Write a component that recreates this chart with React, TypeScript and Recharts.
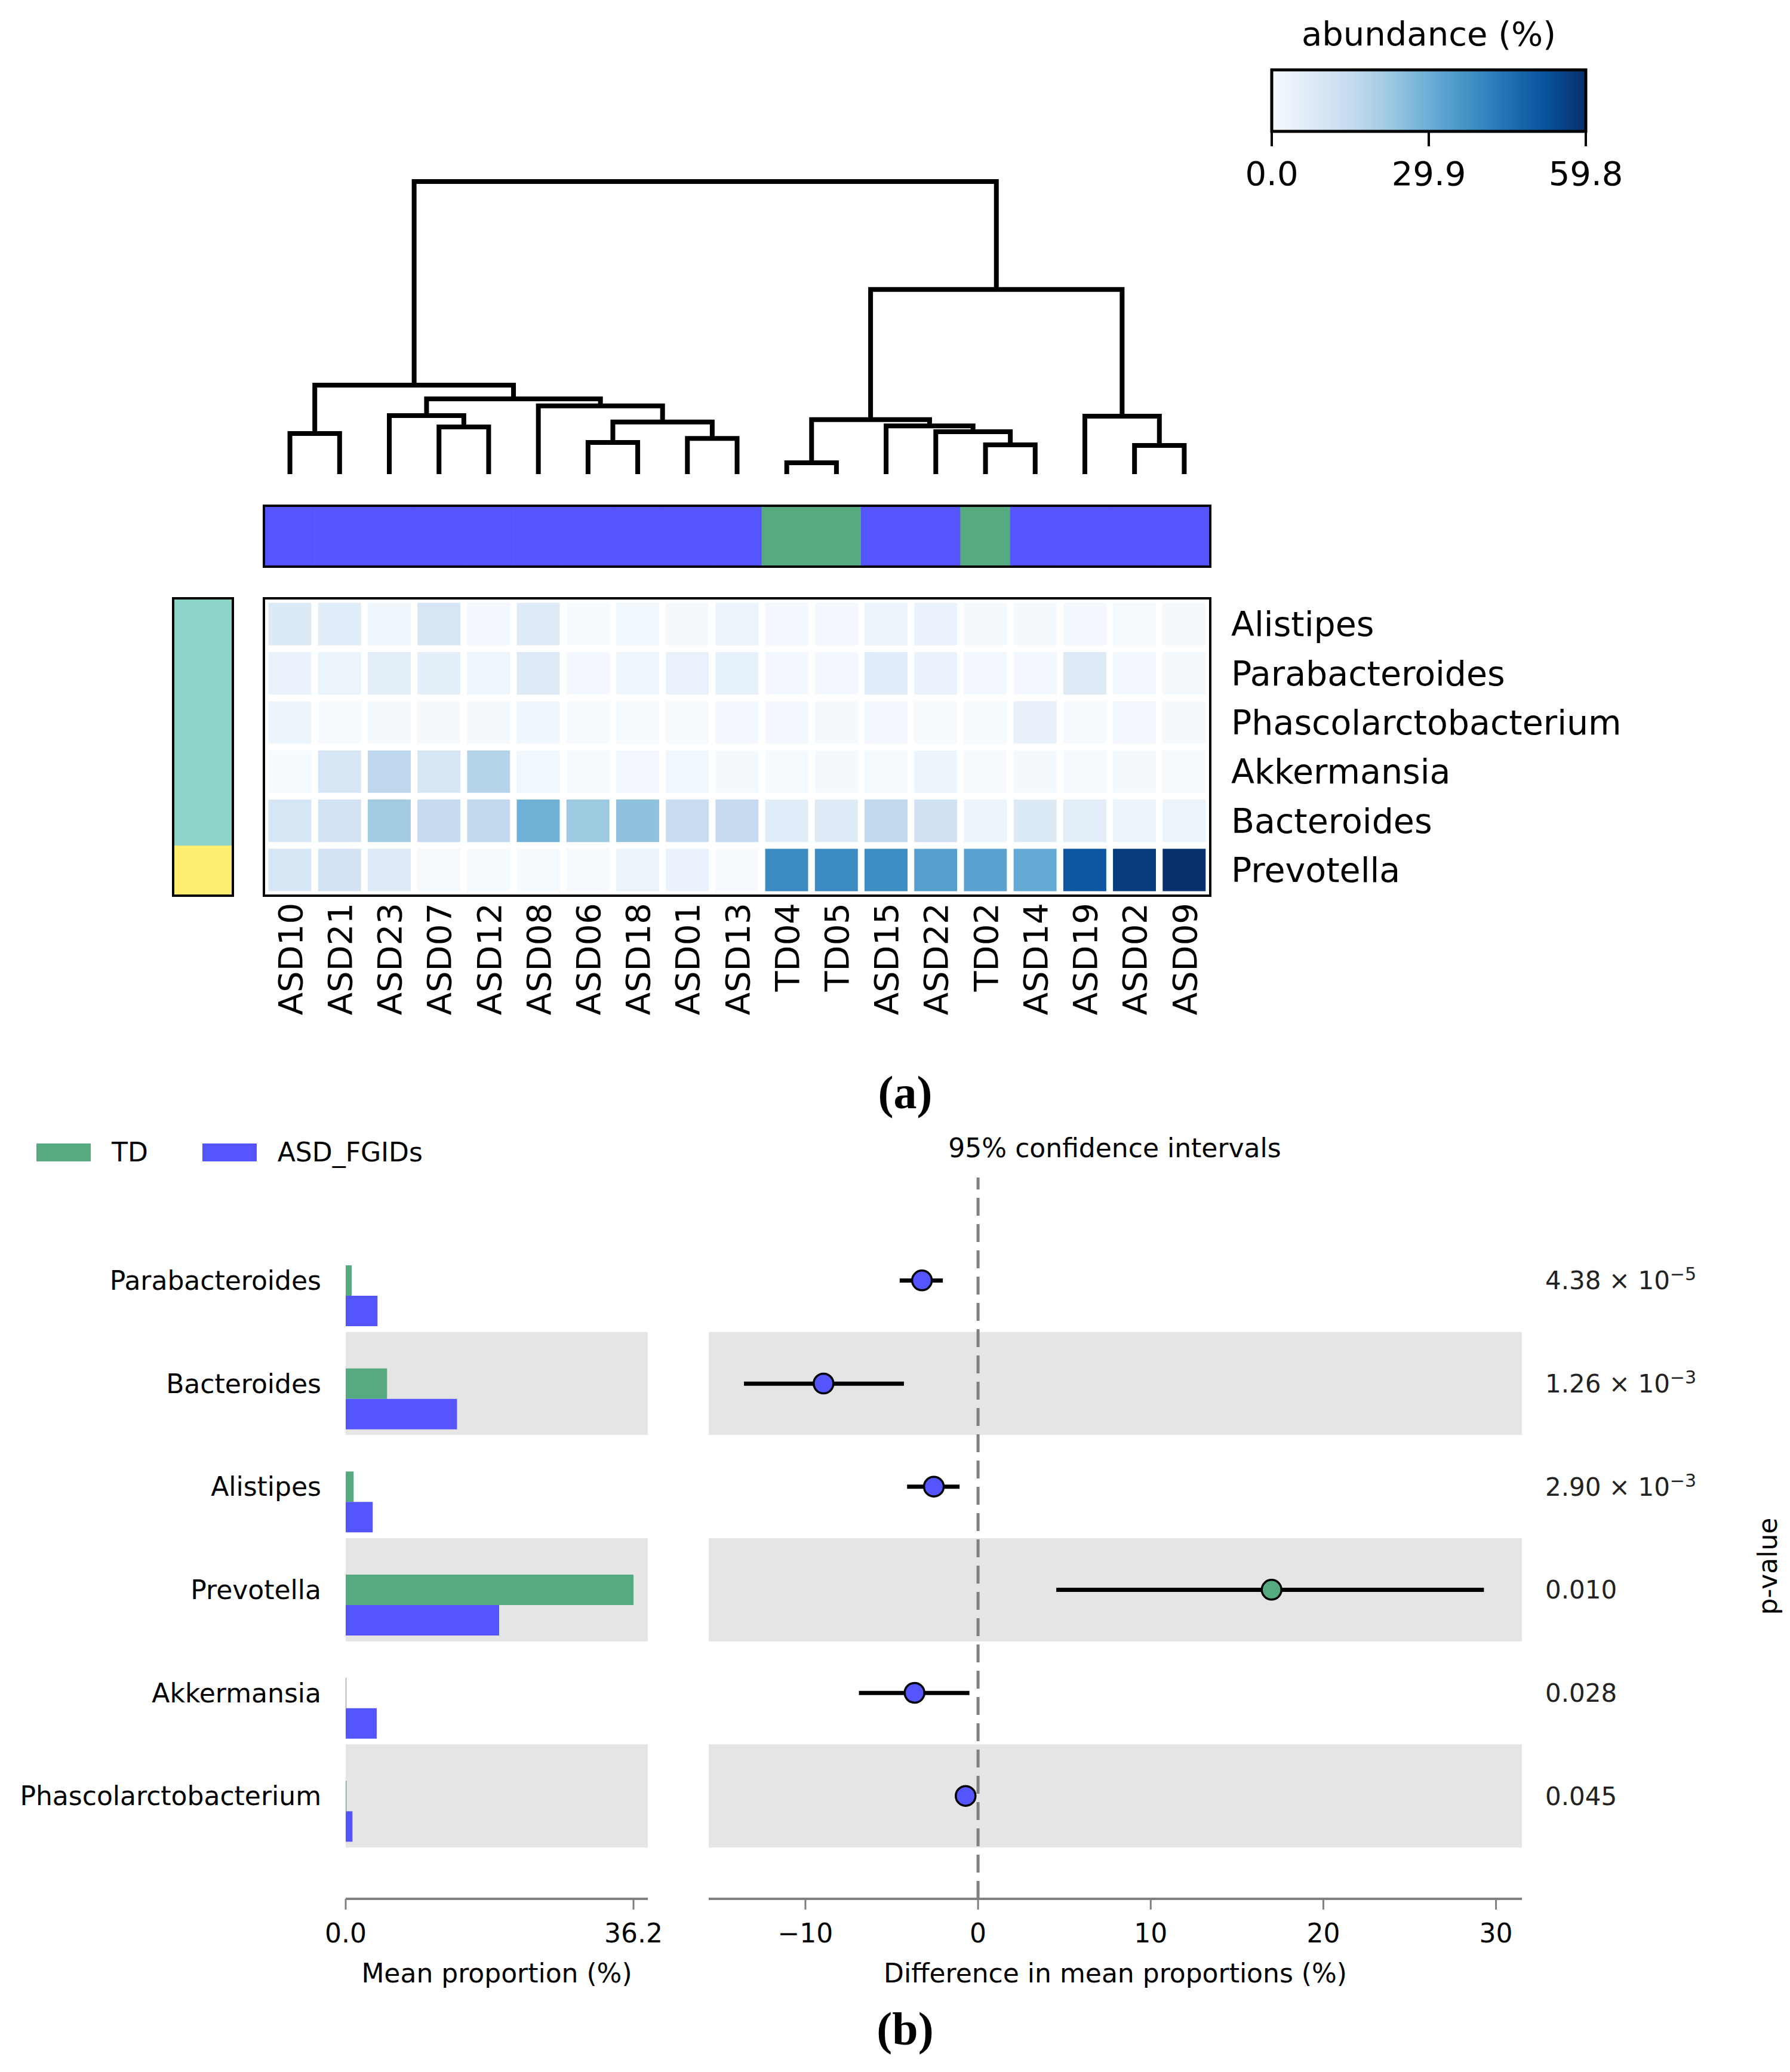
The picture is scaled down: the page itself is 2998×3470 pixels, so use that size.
import React from "react";
import {
  BarChart, Bar, Cell, XAxis, YAxis, ScatterChart, Scatter,
  ComposedChart, ReferenceArea, ReferenceLine, Legend, Label,
} from "recharts";

const FONT = "'DejaVu Sans', sans-serif";
const TD_COLOR = "#55AA7F";
const ASD_COLOR = "#5555FF";
const BAND_GRAY = "#E5E5E5";
const AXIS_GRAY = "#808080";

// ---------- (a) heatmap + dendrogram ----------
const SAMPLES = [
  "ASD10", "ASD21", "ASD23", "ASD07", "ASD12", "ASD08", "ASD06", "ASD18", "ASD01", "ASD13",
  "TD04", "TD05", "ASD15", "ASD22", "TD02", "ASD14", "ASD19", "ASD02", "ASD09",
];
// rows, top to bottom
const GENERA = ["Alistipes", "Parabacteroides", "Phascolarctobacterium", "Akkermansia", "Bacteroides", "Prevotella"];

const ALISTIPES       = [8.0, 6.5, 2.5, 10.0, 1.5, 7.5, 0.3, 2.0, 1.0, 3.5, 1.4, 1.2, 3.5, 4.0, 0.9, 1.0, 1.2, 0.7, 1.0];
const PARABACTEROIDES = [3.8, 3.5, 6.0, 5.5, 2.8, 7.5, 1.5, 2.5, 4.2, 5.0, 1.2, 1.3, 6.5, 3.8, 1.2, 1.4, 7.5, 1.4, 0.8];
const PHASCOLARCTO    = [3.0, 0.3, 0.8, 1.0, 0.8, 2.2, 0.4, 0.6, 0.6, 1.2, 1.5, 1.0, 1.5, 0.6, 0.5, 4.5, 0.4, 1.8, 0.8];
const AKKERMANSIA     = [0.2, 10.0, 16.5, 10.0, 18.0, 2.0, 0.5, 1.2, 2.0, 1.0, 0.7, 1.0, 0.5, 3.0, 0.4, 0.8, 0.6, 0.8, 0.5];
const BACTEROIDES     = [10.0, 11.0, 22.0, 15.0, 15.5, 29.0, 22.5, 24.5, 14.0, 15.0, 6.5, 7.5, 16.0, 12.0, 3.0, 8.0, 6.0, 3.2, 3.5];
const PREVOTELLA      = [9.5, 11.0, 7.5, 0.5, 0.5, 0.5, 0.3, 3.5, 4.0, 0.3, 39.0, 39.0, 38.5, 34.0, 33.0, 31.0, 51.0, 57.0, 59.8];

const ABUNDANCE: Record<string, number[]> = {
  Alistipes: ALISTIPES,
  Parabacteroides: PARABACTEROIDES,
  Phascolarctobacterium: PHASCOLARCTO,
  Akkermansia: AKKERMANSIA,
  Bacteroides: BACTEROIDES,
  Prevotella: PREVOTELLA,
};
const GENUS_CLUSTER = [0, 0, 0, 0, 0, 1];
const CLUSTER_COLORS = ["#8DD3C7", "#FFED6F"];
const ABUNDANCE_MAX = 59.8;
const COLORBAR_TICKS = [0, 29.9, 59.8];

// column linkage: [id, left, right, height]
const LINKAGE: [string, string, string, number][] = [
  ["c0", "ASD10", "ASD21", 0.139],
  ["c1", "ASD07", "ASD12", 0.161],
  ["c2", "ASD23", "c1", 0.2],
  ["c3", "ASD06", "ASD18", 0.108],
  ["c4", "ASD01", "ASD13", 0.122],
  ["c5", "c3", "c4", 0.178],
  ["c6", "ASD08", "c5", 0.233],
  ["c7", "c2", "c6", 0.257],
  ["c8", "c0", "c7", 0.304],
  ["c9", "TD04", "TD05", 0.039],
  ["c10", "TD02", "ASD14", 0.1],
  ["c11", "ASD22", "c10", 0.145],
  ["c12", "ASD15", "c11", 0.165],
  ["c13", "c9", "c12", 0.186],
  ["c14", "ASD02", "ASD09", 0.098],
  ["c15", "ASD19", "c14", 0.198],
  ["c16", "c13", "c15", 0.631],
  ["c17", "c8", "c16", 1.0],
];

// ---------- (b) extended error bar ----------
const GENERA_B = ["Parabacteroides", "Bacteroides", "Alistipes", "Prevotella", "Akkermansia", "Phascolarctobacterium"];
const TD_MEAN  = [0.75, 5.2, 1.0, 36.2, 0.08, 0.1];
const ASD_MEAN = [4.0, 14.0, 3.4, 19.3, 3.9, 0.85];
const DIFF     = [-3.25, -8.95, -2.56, 17.0, -3.68, -0.72];
const CI_LO    = [-4.54, -13.56, -4.11, 4.53, -6.9, -1.2];
const CI_HI    = [-2.04, -4.29, -1.07, 29.3, -0.5, -0.2];
const P_VALUES = [4.38e-5, 1.26e-3, 2.9e-3, 0.01, 0.028, 0.045];
const MEAN_TICKS = [0, 36.2];
const DIFF_TICKS = [-10, 0, 10, 20, 30];
const GROUP_LEGEND = [
  { name: "TD", color: TD_COLOR },
  { name: "ASD_FGIDs", color: ASD_COLOR },
];

// matplotlib "Blues"
const BLUES = ["#f7fbff", "#deebf7", "#c6dbef", "#9ecae1", "#6baed6", "#4292c6", "#2171b5", "#08519c", "#08306b"];

function hexToRgb(h: string) {
  const n = parseInt(h.slice(1), 16);
  return [(n >> 16) & 255, (n >> 8) & 255, n & 255];
}
function blues(v: number) {
  const t = Math.max(0, Math.min(1, v / ABUNDANCE_MAX)) * (BLUES.length - 1);
  const i = Math.min(Math.floor(t), BLUES.length - 2);
  const f = t - i;
  const a = hexToRgb(BLUES[i]);
  const b = hexToRgb(BLUES[i + 1]);
  const c = a.map((x, k) => Math.round(x + (b[k] - x) * f));
  return `rgb(${c[0]},${c[1]},${c[2]})`;
}

function buildDendrogram() {
  const pos: Record<string, { x: number; h: number }> = {};
  SAMPLES.forEach((s, i) => { pos[s] = { x: i + 0.5, h: 0 }; });
  return LINKAGE.map(([id, l, r, h]) => {
    const A = pos[l];
    const B = pos[r];
    pos[id] = { x: (A.x + B.x) / 2, h };
    return [
      { x: A.x, y: A.h }, { x: A.x, y: h },
      { x: B.x, y: h }, { x: B.x, y: B.h },
    ];
  });
}
const DENDRO_LINKS = buildDendrogram();
const ROOT_H = LINKAGE[LINKAGE.length - 1][3];

const STACK = [...GENERA].reverse(); // bottom row first
const unitRow = () => Object.fromEntries(GENERA.map((g) => [g, 1]));
const HEAT_TILES = SAMPLES.map((sample) => ({ sample, ...unitRow() }));
const GROUP_TILES = SAMPLES.map((sample) => ({ sample, tile: 1 }));
const SIDE_TILES = [{ strip: "genus", ...unitRow() }];
const COLORBAR_DATA = [{ name: "abundance", lo: 0, hi: ABUNDANCE_MAX }];

const B_DATA = GENERA_B.map((genus, i) => ({
  genus, td: TD_MEAN[i], asd: ASD_MEAN[i], diff: DIFF[i], lo: CI_LO[i], hi: CI_HI[i],
}));
const SHADED = GENERA_B.filter((_, i) => i % 2 === 1);

const NO_BAR = () => 0;
const RANGE = (d: any) => [d.lo, d.hi];

// geometry
const HM_LEFT = 444, HM_W = 1581;
const HM_TOP = 1004, HM_H = 494;

const Blank = () => <g />;

const SampleTick = ({ x, y, payload }: any) => (
  <text x={x} y={y} transform={`rotate(-90 ${x} ${y})`} textAnchor="end" dy="0.36em"
    fontSize={56} fontFamily={FONT} fill="#000">{payload.value}</text>
);

const PValueTick = ({ x, y, payload }: any) => {
  const p = P_VALUES[GENERA_B.indexOf(payload.value)];
  const style = { fontSize: 42, fontFamily: FONT, fill: "#222" };
  if (p < 0.01) {
    const e = Math.floor(Math.log10(p));
    const m = p / Math.pow(10, e);
    return (
      <text x={x} y={y} dy="0.36em" textAnchor="start" {...style}>
        {m.toFixed(2)} × 10<tspan dy={-15} fontSize={30}>{`\u2212${-e}`}</tspan>
      </text>
    );
  }
  return <text x={x} y={y} dy="0.36em" textAnchor="start" {...style}>{p.toFixed(3)}</text>;
};

const DiffDot = (props: any) => {
  const { cx, cy, payload } = props;
  if (cx == null || cy == null) return null;
  return <circle cx={cx} cy={cy} r={16.5} fill={payload.diff > 0 ? TD_COLOR : ASD_COLOR} stroke="#000" strokeWidth={3.5} />;
};

const GroupLegend = () => (
  <div style={{ display: "flex", alignItems: "center", fontFamily: FONT, fontSize: 44, color: "#000", whiteSpace: "nowrap", lineHeight: "52px" }}>
    {GROUP_LEGEND.map((g, i) => (
      <span key={g.name} style={{ display: "flex", alignItems: "center", marginLeft: i ? 91 : 0 }}>
        <span style={{ display: "inline-block", width: 91, height: 30, background: g.color, marginRight: 35 }} />
        {g.name}
      </span>
    ))}
  </div>
);

const boxed = (left: number, top: number, w: number, h: number) => ({
  position: "absolute" as const, left: left - 4, top: top - 4, width: w, height: h,
  border: "4px solid #000", pointerEvents: "none" as const,
});

const axisTick = { fontSize: 44, fill: "#000", fontFamily: FONT };
const diffFmt = (v: number) => (v < 0 ? `\u2212${Math.abs(v)}` : `${v}`);

export default function App() {
  return (
    <div style={{ position: "absolute", left: 0, top: 0, width: 2998, height: 3470, background: "#fff", fontFamily: FONT }}>
      {/* colour bar */}
      <div style={{ position: "absolute", left: 2000, top: 97 }}>
        <BarChart layout="vertical" width={800} height={270} data={COLORBAR_DATA}
          margin={{ top: 20, right: 144, bottom: 0, left: 130 }} barCategoryGap={0}>
          <defs>
            <linearGradient id="bluesBar" x1="0" y1="0" x2="1" y2="0">
              {BLUES.map((c, i) => <stop key={c} offset={i / (BLUES.length - 1)} stopColor={c} />)}
            </linearGradient>
          </defs>
          <XAxis type="number" domain={[0, ABUNDANCE_MAX]} ticks={COLORBAR_TICKS} interval={0}
            height={147} axisLine={false} tickSize={25} tickMargin={25}
            tickLine={{ stroke: "#000", strokeWidth: 4 }}
            tickFormatter={(v: number) => v.toFixed(1)}
            tick={{ fontSize: 56, fill: "#000", fontFamily: FONT }} />
          <YAxis type="category" dataKey="name" hide />
          <Bar dataKey={RANGE} fill="url(#bluesBar)" stroke="#000" strokeWidth={5} isAnimationActive={false} />
        </BarChart>
      </div>

      {/* dendrogram */}
      <div style={{ position: "absolute", left: HM_LEFT, top: 284 }}>
        <ScatterChart width={HM_W} height={530} margin={{ top: 20, right: 0, bottom: 20, left: 0 }}>
          <XAxis type="number" dataKey="x" domain={[0, SAMPLES.length]} hide />
          <YAxis type="number" dataKey="y" domain={[0, ROOT_H]} hide />
          {DENDRO_LINKS.map((pts, i) => (
            <Scatter key={i} data={pts} line={{ stroke: "#000", strokeWidth: 8 }} lineType="joint"
              shape={<Blank />} isAnimationActive={false} legendType="none" />
          ))}
        </ScatterChart>
      </div>

      {/* group strip */}
      <div style={{ position: "absolute", left: HM_LEFT, top: 849 }}>
        <BarChart width={HM_W} height={98} data={GROUP_TILES} margin={{ top: 0, right: 0, bottom: 0, left: 0 }} barCategoryGap={0}>
          <XAxis dataKey="sample" hide />
          <YAxis type="number" domain={[0, 1]} hide />
          <Bar dataKey="tile" isAnimationActive={false}>
            {SAMPLES.map((s) => {
              const c = s.startsWith("TD") ? TD_COLOR : ASD_COLOR;
              return <Cell key={s} fill={c} stroke={c} strokeWidth={1} />;
            })}
          </Bar>
        </BarChart>
      </div>
      <div style={boxed(HM_LEFT, 849, HM_W, 98)} />

      {/* heatmap */}
      <div style={{ position: "absolute", left: HM_LEFT, top: HM_TOP }}>
        <BarChart width={HM_W + 720} height={HM_H + 230} data={HEAT_TILES} margin={{ top: 0, right: 0, bottom: 0, left: 0 }} barCategoryGap={0}>
          <XAxis dataKey="sample" type="category" height={230} interval={0} axisLine={false} tickLine={false}
            tickSize={0} tickMargin={14} tick={<SampleTick />} />
          <YAxis orientation="right" type="number" domain={[0, GENERA.length]} width={720}
            ticks={STACK.map((_, i) => i + 0.5)} interval={0}
            tickFormatter={(v: number) => STACK[Math.floor(v)]}
            axisLine={false} tickLine={false} tickSize={0} tickMargin={37}
            tick={{ fontSize: 57, fill: "#000", fontFamily: FONT }} />
          {STACK.map((g) => (
            <Bar key={g} dataKey={g} stackId="cells" isAnimationActive={false}>
              {SAMPLES.map((s, i) => <Cell key={s} fill={blues(ABUNDANCE[g][i])} stroke="#fff" strokeWidth={11} />)}
            </Bar>
          ))}
        </BarChart>
      </div>
      <div style={boxed(HM_LEFT, HM_TOP, HM_W, HM_H)} />

      {/* row colour strip */}
      <div style={{ position: "absolute", left: 292, top: HM_TOP }}>
        <BarChart width={96} height={HM_H} data={SIDE_TILES} margin={{ top: 0, right: 0, bottom: 0, left: 0 }} barCategoryGap={0}>
          <XAxis dataKey="strip" hide />
          <YAxis type="number" domain={[0, GENERA.length]} hide />
          {STACK.map((g) => {
            const c = CLUSTER_COLORS[GENUS_CLUSTER[GENERA.indexOf(g)]];
            return <Bar key={g} dataKey={g} stackId="side" fill={c} stroke={c} strokeWidth={1} isAnimationActive={false} />;
          })}
        </BarChart>
      </div>
      <div style={boxed(292, HM_TOP, 96, HM_H)} />

      {/* (b) mean proportions */}
      <div style={{ position: "absolute", left: 0, top: 1890 }}>
        <BarChart layout="vertical" width={1140} height={1460} data={B_DATA}
          margin={{ top: 82, right: 55, bottom: 0, left: 0 }} barGap={0} barSize={51}>
          {SHADED.map((g) => (
            <ReferenceArea key={g} y1={g} y2={g} fill={BAND_GRAY} fillOpacity={1} stroke="none" />
          ))}
          <XAxis type="number" domain={[0, 38]} ticks={MEAN_TICKS} interval={0} height={170}
            axisLine={{ stroke: AXIS_GRAY, strokeWidth: 4 }} tickLine={{ stroke: AXIS_GRAY, strokeWidth: 3 }}
            tickSize={18} tickMargin={24} tick={axisTick} tickFormatter={(v: number) => v.toFixed(1)}>
            <Label value="Mean proportion (%)" position="insideTop" offset={109} style={axisTick} />
          </XAxis>
          <YAxis type="category" dataKey="genus" width={579} padding={{ top: 86, bottom: 86 }}
            axisLine={false} tickLine={false} tickSize={0} tickMargin={41} interval={0} tick={axisTick} />
          <Bar dataKey={NO_BAR} fill="none" isAnimationActive={false} legendType="none" />
          <Bar dataKey="td" name="TD" fill={TD_COLOR} isAnimationActive={false} />
          <Bar dataKey="asd" name="ASD_FGIDs" fill={ASD_COLOR} isAnimationActive={false} />
          <Legend content={<GroupLegend />} layout="vertical" align="center" verticalAlign="middle"
            wrapperStyle={{ top: 14, left: 61, width: "auto" }} />
        </BarChart>
      </div>

      {/* (b) difference with confidence intervals */}
      <div style={{ position: "absolute", left: 1150, top: 1890 }}>
        <ComposedChart layout="vertical" width={1840} height={1460} data={B_DATA}
          margin={{ top: 82, right: 0, bottom: 0, left: 37 }}>
          {SHADED.map((g) => (
            <ReferenceArea key={g} y1={g} y2={g} fill={BAND_GRAY} fillOpacity={1} stroke="none" />
          ))}
          <XAxis type="number" dataKey="diff" domain={[-15.6, 31.5]} ticks={DIFF_TICKS} interval={0} height={170}
            axisLine={{ stroke: AXIS_GRAY, strokeWidth: 4 }} tickLine={{ stroke: AXIS_GRAY, strokeWidth: 3 }}
            tickSize={18} tickMargin={24} tick={axisTick} tickFormatter={diffFmt}>
            <Label value="Difference in mean proportions (%)" position="insideTop" offset={109} style={axisTick} />
          </XAxis>
          <YAxis type="category" dataKey="genus" hide padding={{ top: 86, bottom: 86 }} />
          <YAxis yAxisId="p" orientation="right" type="category" dataKey="genus" width={441}
            padding={{ top: 86, bottom: 86 }} axisLine={false} tickLine={false} tickSize={0} tickMargin={39}
            interval={0} tick={<PValueTick />} />
          <ReferenceLine x={0} stroke={AXIS_GRAY} strokeWidth={5} strokeDasharray="30 14" />
          <Bar dataKey={RANGE} barSize={7} fill="#000" isAnimationActive={false} />
          <Scatter dataKey="diff" shape={<DiffDot />} isAnimationActive={false} />
        </ComposedChart>
      </div>

      {/* titles and captions */}
      <svg width={2998} height={3470} style={{ position: "absolute", left: 0, top: 0, pointerEvents: "none" }}>
        <text x={2393} y={76} textAnchor="middle" fontSize={56} fontFamily={FONT} fill="#000">abundance (%)</text>
        <text x={1516} y={1856} textAnchor="middle" fontSize={78} fontWeight="bold" fontFamily="'Liberation Serif', serif" fill="#000">(a)</text>
        <text x={1867} y={1938} textAnchor="middle" fontSize={44} fontFamily={FONT} fill="#000">95% confidence intervals</text>
        <text x={2960} y={2623} textAnchor="middle" dominantBaseline="central" transform="rotate(-90 2960 2623)"
          fontSize={44} fontFamily={FONT} fill="#000">p-value</text>
        <text x={1516} y={3424} textAnchor="middle" fontSize={78} fontWeight="bold" fontFamily="'Liberation Serif', serif" fill="#000">(b)</text>
      </svg>
    </div>
  );
}
